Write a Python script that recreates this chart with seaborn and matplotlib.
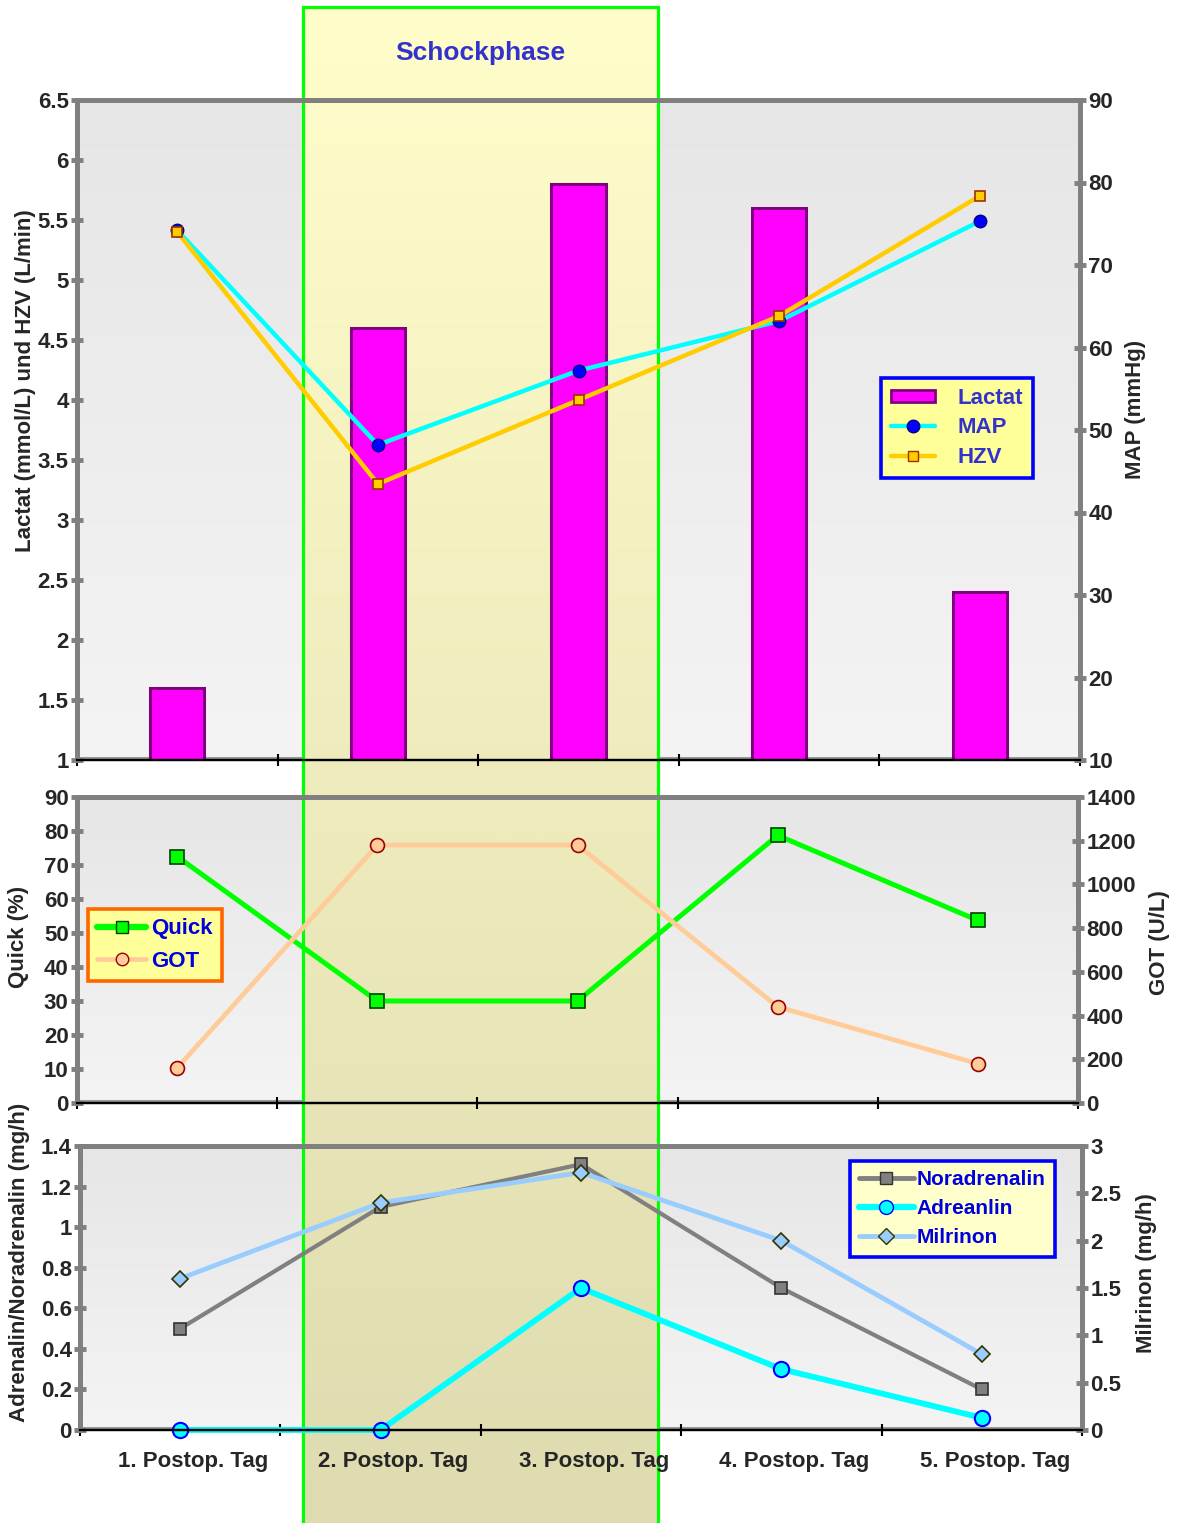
import numpy as np
import matplotlib
matplotlib.use("Agg")
import matplotlib.pyplot as plt
import seaborn as sns
from matplotlib.lines import Line2D
from matplotlib.patches import Patch, Rectangle
from matplotlib.colors import LinearSegmentedColormap
from matplotlib.ticker import FuncFormatter, FixedLocator
from matplotlib.transforms import ScaledTranslation

# ---------------- data ----------------
days = ["1. Postop. Tag", "2. Postop. Tag", "3. Postop. Tag", "4. Postop. Tag", "5. Postop. Tag"]
lactat = [1.6, 4.6, 5.8, 5.6, 2.4]          # mmol/L (left axis, top panel)
hzv = [5.4, 3.3, 4.0, 4.7, 5.7]             # L/min (left axis, top panel)
map_mmhg = [74.2, 48.2, 57.2, 63.2, 75.3]   # mmHg (right axis, top panel)
quick = [72.5, 30, 30, 78.7, 53.7]          # % (left axis, middle panel)
got = [160, 1180, 1180, 440, 180]           # U/L (right axis, middle panel)
noradrenalin = [0.5, 1.1, 1.31, 0.7, 0.2]   # mg/h (left axis, bottom panel)
adrenalin = [0.0, 0.0, 0.7, 0.3, 0.06]      # mg/h (left axis, bottom panel)
milrinon = [1.6, 2.4, 2.72, 2.0, 0.8]       # mg/h (right axis, bottom panel)

shock_title = "Schockphase"
legend1_labels = ["Lactat", "MAP", "HZV"]
legend2_labels = ["Quick", "GOT"]
legend3_labels = ["Noradrenalin", "Adreanlin", "Milrinon"]

# ---------------- style ----------------
sns.set_style("white")
plt.rcParams["font.family"] = ["Liberation Sans", "DejaVu Sans"]
plt.rcParams["font.weight"] = "bold"
plt.rcParams["axes.labelweight"] = "bold"

W, H = 1179, 1523
fig = plt.figure(figsize=(W / 100, H / 100), dpi=100)
fig.patch.set_facecolor("white")

def rect(l, t, r, b):
    return [l / W, 1 - b / H, (r - l) / W, (b - t) / H]

P1 = (77, 100, 1080, 760)
P2 = (77, 797, 1078, 1103)
P3 = (80, 1146, 1082, 1430)

# ---------------- background layer ----------------
bg = fig.add_axes([0, 0, 1, 1])
bg.set_zorder(-5)
bg.set_xlim(0, W)
bg.set_ylim(0, H)
bg.axis("off")
grad = np.linspace(0, 1, 256).reshape(-1, 1)
panel_cmap = LinearSegmentedColormap.from_list("pg", ["#E6E6E6", "#F4F4F4"])
for (l, t, r, b) in (P1, P2, P3):
    bg.imshow(grad, extent=(l, r, H - b, H - t), cmap=panel_cmap, aspect="auto",
              origin="upper", zorder=1, interpolation="bilinear")
    # thin gray band just above the black base line, as in the original
    bg.plot([l, r], [H - b + 2.5, H - b + 2.5], color="#999999", lw=2.2, zorder=1.5,
            solid_capstyle="butt")
shock_cmap = LinearSegmentedColormap.from_list("sg", ["#FFFDCA", "#DEDBB0"])
sx0, sx1, sy0 = 303, 658, 7
bg.imshow(grad, extent=(sx0, sx1, -5, H - sy0), cmap=shock_cmap, aspect="auto",
          origin="upper", zorder=2, interpolation="bilinear")
bg.add_patch(Rectangle((sx0, -10), sx1 - sx0, H - sy0 + 10, fill=False,
                       edgecolor="#00FF00", linewidth=2.3, zorder=3))
bg.text((sx0 + sx1) / 2, H - 53, shock_title, color="#3333CC", fontsize=19,
        fontweight="bold", ha="center", va="center", zorder=4)

GRAY = "#808080"
fmt = FuncFormatter(lambda v, p: f"{v:g}")
xpos = np.arange(len(days))

def style_axes(ax):
    ax.set_facecolor("none")
    for s in ("left", "top", "right"):
        ax.spines[s].set_color(GRAY)
        ax.spines[s].set_linewidth(3.6)
        ax.spines[s].set_visible(True)
    ax.spines["bottom"].set_color("black")
    ax.spines["bottom"].set_linewidth(1.6)
    ax.set_xlim(-0.5, len(days) - 0.5)
    ax.xaxis.set_major_locator(FixedLocator(np.arange(-0.5, len(days), 1.0)))
    ax.tick_params(axis="x", which="major", direction="inout", length=9, width=1.5,
                   color="black", labelbottom=False, bottom=True)
    ax.tick_params(axis="y", direction="inout", length=8, width=3.5, color=GRAY,
                   labelsize=16, pad=2)
    ax.yaxis.set_major_formatter(fmt)
    ax.set_xlabel("")

def place_label(ax, panel, x, y):
    l, t, r, b = panel
    ax.yaxis.set_label_coords((x - l) / (r - l), (b - y) / (b - t))
    ax.yaxis.label.set_verticalalignment("center")
    ax.yaxis.label.set_horizontalalignment("center")
    ax.yaxis.label.set_fontsize(16)

# ================= panel 1 =================
ax1 = fig.add_axes(rect(*P1))
sns.barplot(x=days, y=lactat, ax=ax1, color="#FF00FF", edgecolor="#800080",
            linewidth=2.2, width=0.27, saturation=1)
ax1.set_ylim(1, 6.5)
ax1.set_yticks(np.arange(1, 6.51, 0.5))
style_axes(ax1)
ax1.set_ylabel("Lactat (mmol/L) und HZV (L/min)")
place_label(ax1, P1, 26, 381)

ax1r = ax1.twinx()
sns.lineplot(x=xpos, y=map_mmhg, ax=ax1r, color="#00FFFF", linewidth=3.2, marker="o",
             markersize=9, markerfacecolor="#0000FF", markeredgecolor="#000080",
             markeredgewidth=1, clip_on=False, legend=False)
ax1r.set_ylim(10, 90)
ax1r.set_yticks(np.arange(10, 91, 10))
style_axes(ax1r)
ax1r.set_ylabel("MAP (mmHg)")
ax1r.yaxis.set_label_position("right")
place_label(ax1r, P1, 1136, 409)

ax1h = fig.add_axes(rect(*P1), sharex=ax1, sharey=ax1)
ax1h.set_facecolor("none")
sns.lineplot(x=xpos, y=hzv, ax=ax1h, color="#FFCC00", linewidth=3.2, marker="s",
             markersize=7, markerfacecolor="#FFCC00", markeredgecolor="#993300",
             markeredgewidth=1.2, clip_on=False, legend=False)
ax1h.axis("off")
ax1.set_xlim(-0.5, len(days) - 0.5)
ax1.set_ylim(1, 6.5)

h1 = [Patch(facecolor="#FF00FF", edgecolor="#800080", linewidth=2),
      Line2D([], [], color="#00FFFF", lw=3.2, marker="o", ms=9, mfc="#0000FF", mec="#000080"),
      Line2D([], [], color="#FFCC00", lw=3.2, marker="s", ms=7, mfc="#FFCC00", mec="#993300")]
leg1 = fig.legend(h1, legend1_labels, loc="upper left", bbox_to_anchor=(881 / W, 1 - 378 / H),
                  frameon=True, fancybox=False, edgecolor="#0000FF", facecolor="#FFFF99",
                  framealpha=1, fontsize=16, labelcolor="#3333CC", handlelength=2.0,
                  handleheight=0.5, borderpad=0.45, labelspacing=0.38, handletextpad=1.0,
                  borderaxespad=0)
leg1.get_frame().set_linewidth(2.6)

# ================= panel 2 =================
ax2 = fig.add_axes(rect(*P2))
sns.lineplot(x=xpos, y=quick, ax=ax2, color="#00FF00", linewidth=3.6, marker="s",
             markersize=10, markerfacecolor="#00FF00", markeredgecolor="#004000",
             markeredgewidth=1.2, clip_on=False, legend=False)
ax2.set_ylim(0, 90)
ax2.set_yticks(np.arange(0, 91, 10))
style_axes(ax2)
ax2.set_ylabel("Quick (%)")
place_label(ax2, P2, 19, 937)

ax2r = ax2.twinx()
sns.lineplot(x=xpos, y=got, ax=ax2r, color="#FFCC99", linewidth=3.4, marker="o",
             markersize=10, markerfacecolor="#FFCC99", markeredgecolor="#990000",
             markeredgewidth=1.2, clip_on=False, legend=False)
ax2r.set_ylim(0, 1400)
ax2r.set_yticks(np.arange(0, 1401, 200))
style_axes(ax2r)
ax2r.set_ylabel("GOT (U/L)")
ax2r.yaxis.set_label_position("right")
place_label(ax2r, P2, 1160, 943)

h2 = [Line2D([], [], color="#00FF00", lw=4.5, marker="s", ms=9, mfc="#00FF00", mec="#004000"),
      Line2D([], [], color="#FFCC99", lw=3.4, marker="o", ms=9, mfc="#FFCC99", mec="#990000")]
leg2 = fig.legend(h2, legend2_labels, loc="upper left", bbox_to_anchor=(88 / W, 1 - 909 / H),
                  frameon=True, fancybox=False, edgecolor="#FF6600", facecolor="#FFFF99",
                  framealpha=1, fontsize=16, labelcolor="#0000DD", handlelength=2.2,
                  borderpad=0.42, labelspacing=0.52, handletextpad=0.2, borderaxespad=0)
leg2.get_frame().set_linewidth(2.6)

# ================= panel 3 =================
ax3 = fig.add_axes(rect(*P3))
sns.lineplot(x=xpos, y=noradrenalin, ax=ax3, color="#808080", linewidth=3.0, marker="s",
             markersize=9, markerfacecolor="#808080", markeredgecolor="#333333",
             markeredgewidth=1.2, clip_on=False, legend=False)
sns.lineplot(x=xpos, y=adrenalin, ax=ax3, color="#00FFFF", linewidth=4.2, marker="o",
             markersize=11, markerfacecolor="#00FFFF", markeredgecolor="#0000FF",
             markeredgewidth=1.5, clip_on=False, legend=False)
ax3.set_ylim(0, 1.4)
ax3.set_yticks(np.arange(0, 1.41, 0.2))
style_axes(ax3)
ax3.yaxis.set_major_formatter(FuncFormatter(lambda v, p: f"{round(v, 1):g}"))
ax3.set_ylabel("Adrenalin/Noradrenalin (mg/h)")
place_label(ax3, P3, 20, 1262)
ax3.set_xticks(xpos, minor=True)
ax3.set_xticklabels(days, minor=True)
ax3.tick_params(axis="x", which="minor", length=0, labelsize=16, pad=15, labelbottom=True)
for lab in ax3.get_xticklabels(minor=True):
    lab.set_transform(lab.get_transform() + ScaledTranslation(13 / 100, 0, fig.dpi_scale_trans))

ax3r = ax3.twinx()
sns.lineplot(x=xpos, y=milrinon, ax=ax3r, color="#99CCFF", linewidth=3.4, marker="D",
             markersize=8, markerfacecolor="#99CCFF", markeredgecolor="#333300",
             markeredgewidth=1.2, clip_on=False, legend=False)
ax3r.set_ylim(0, 3)
ax3r.set_yticks(np.arange(0, 3.01, 0.5))
style_axes(ax3r)
ax3r.set_ylabel("Milrinon (mg/h)")
ax3r.yaxis.set_label_position("right")
place_label(ax3r, P3, 1146, 1273)

h3 = [Line2D([], [], color="#808080", lw=3.5, marker="s", ms=9, mfc="#808080", mec="#333333"),
      Line2D([], [], color="#00FFFF", lw=4.5, marker="o", ms=10, mfc="#00FFFF", mec="#0000FF"),
      Line2D([], [], color="#99CCFF", lw=3.5, marker="D", ms=8, mfc="#99CCFF", mec="#333300")]
leg3 = fig.legend(h3, legend3_labels, loc="upper left", bbox_to_anchor=(850 / W, 1 - 1161 / H),
                  frameon=True, fancybox=False, edgecolor="#0000FF", facecolor="#FFFFCC",
                  framealpha=1, fontsize=15, labelcolor="#0000DD", handlelength=2.6,
                  borderpad=0.45, labelspacing=0.48, handletextpad=0.15, borderaxespad=0)
leg3.get_frame().set_linewidth(2.6)

fig.savefig("out.png", dpi=100, facecolor="white")
